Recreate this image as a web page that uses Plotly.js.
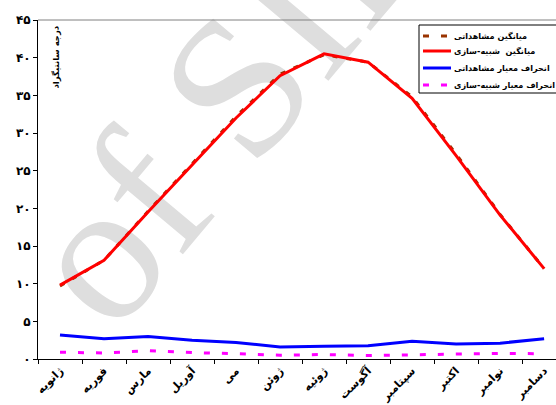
<!DOCTYPE html>
<html>
<head>
<meta charset="utf-8">
<script src="https://cdn.plot.ly/plotly-3.0.1.min.js"></script>
<style>
html,body{margin:0;padding:0;background:#fff;overflow:hidden;width:556px;height:405px;}
#wm{position:absolute;left:235px;top:88px;transform:translate(-50%,-50%) rotate(-50deg);font-family:"Liberation Serif",serif;font-size:200px;color:#dedede;white-space:nowrap;z-index:0;line-height:1;}
#chart{position:absolute;left:0;top:0;width:600px;height:405px;z-index:1;}
</style>
</head>
<body>
<div id="wm">of SID</div>
<div id="chart"></div>
<script>
const months = ['ژانویه','فوریه','مارس','آوریل','می','ژوئن','ژوئیه','آگوست','سپتامبر','اکتبر','نوامبر','دسامبر'];
const meanObserved = [9.7, 13.1, 19.6, 25.9, 32.2, 37.8, 40.4, 39.4, 34.8, 27.2, 19.2, 12.0];
const meanSimulated = [9.8, 13.1, 19.5, 25.7, 32.0, 37.6, 40.5, 39.4, 34.6, 27.0, 19.1, 12.0];
const sdObserved = [3.2, 2.7, 3.0, 2.5, 2.2, 1.6, 1.7, 1.75, 2.35, 2.0, 2.1, 2.7];
const sdSimulated = [0.9, 0.8, 1.1, 0.85, 0.7, 0.5, 0.6, 0.45, 0.55, 0.6, 0.75, 0.7];
const seriesNames = ['میانگین مشاهداتی', 'میانگین  شبیه-سازی', 'انحراف معیار مشاهداتی', 'انحراف معیار شبیه-سازی'];
const seriesColors = ['#993300', '#ff0000', '#0000ff', '#ff00ff'];
const seriesDash = ['6px,12px', 'solid', 'solid', '6px,12px'];
const yTickVals = [0,5,10,15,20,25,30,35,40,45];
const yTickText = ['۰','۵','۱۰','۱۵','۲۰','۲۵','۳۰','۳۵','۴۰','۴۵'];
const yTitle = 'درجه سانتیگراد';

const F = 'DejaVu Sans, Arial, sans-serif';
const seriesValues = [meanObserved, meanSimulated, sdObserved, sdSimulated];
const traces = seriesValues.map((vals, i) => ({
  x: months, y: vals, name: seriesNames[i], mode: 'lines',
  line: {color: seriesColors[i], width: 3, dash: i === 0 ? '5px,9px' : seriesDash[i]}
}));

// plot-area pixel helpers for the custom legend box
const W = 600, H = 405, ML = 38, MT = 20, MB = 46;
const PW = W - ML, PH = H - MT - MB;
const px = p => (p - ML) / PW;
const py = p => 1 - (p - MT) / PH;

const shapes = [
  {type: 'line', xref: 'paper', yref: 'paper', x0: 0, x1: 1, y0: 1, y1: 1, line: {color: '#808080', width: 1}},
  {type: 'rect', xref: 'paper', yref: 'paper', x0: px(419), x1: px(620), y0: py(25), y1: py(93),
   line: {color: '#000', width: 1}, fillcolor: '#fff', layer: 'above'}
];
const annotations = [
  {text: yTitle, xref: 'paper', yref: 'paper', x: px(56), y: py(24), xanchor: 'center', yanchor: 'top',
   textangle: -90, showarrow: false, font: {family: F, size: 8.5, weight: 'bold'}}
];
const entryY = [36, 51, 68, 85];
seriesNames.forEach((n, i) => {
  shapes.push({type: 'line', xref: 'paper', yref: 'paper', x0: px(423), x1: px(451), y0: py(entryY[i]), y1: py(entryY[i]),
               line: {color: seriesColors[i], width: 3, dash: seriesDash[i]}, layer: 'above'});
  annotations.push({text: n, xref: 'paper', yref: 'paper', x: px(452), y: py(entryY[i]), xanchor: 'left', yanchor: 'middle',
                    showarrow: false, font: {family: F, size: 8.1, weight: 'bold'}});
});

const layout = {
  width: W, height: H,
  margin: {l: ML, r: 0, t: MT, b: MB},
  paper_bgcolor: 'rgba(0,0,0,0)', plot_bgcolor: 'rgba(0,0,0,0)',
  font: {family: F, color: '#000'},
  showlegend: false,
  xaxis: {type: 'category', range: [-0.5, 12.27], showline: true, linecolor: '#000', linewidth: 1,
          ticks: 'outside', ticklen: 4, tickcolor: '#000', tickson: 'boundaries', showgrid: false, zeroline: false,
          tickangle: -45, tickfont: {family: F, size: 11, weight: 'bold'}},
  yaxis: {range: [0, 45], tickvals: yTickVals, ticktext: yTickText, showline: true, linecolor: '#000', linewidth: 1,
          ticks: 'outside', ticklen: 4, tickcolor: '#000', showgrid: false, zeroline: false,
          tickfont: {family: F, size: 12, weight: 'bold'}},
  shapes: shapes,
  annotations: annotations
};
Plotly.newPlot('chart', traces, layout, {displayModeBar: false, staticPlot: true});
</script>
</body>
</html>
